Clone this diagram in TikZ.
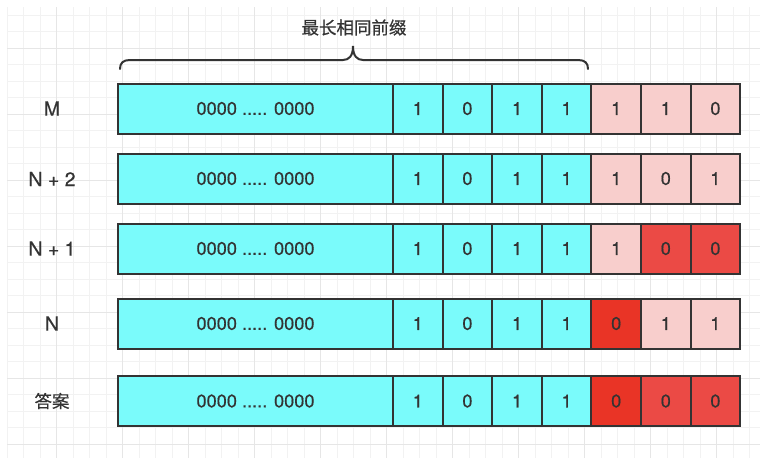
\documentclass[tikz,border=0pt]{standalone}
\usepackage{fontspec}
\setmainfont{TeX Gyre Heros}[FakeBold=0.5]
\newfontfamily\cjkfont{Noto Sans CJK SC}[FakeBold=0.6]
\usepackage{xcolor}
\definecolor{cyanbit}{HTML}{7AFBFB}
\definecolor{pinkbit}{HTML}{F8CECC}
\definecolor{redbit}{HTML}{EB4A45}
\definecolor{hotbit}{HTML}{E93426}
\definecolor{linegray}{HTML}{333333}
\definecolor{gridminor}{HTML}{F2F2F2}
\definecolor{gridmajor}{HTML}{E6E6E6}
\usepackage{tikz}
\usetikzlibrary{
  positioning
}

\newcommand{\bitfont}{\fontsize{18.2}{21}\selectfont}
\newcommand{\labelfont}{\fontsize{19.5}{22}\selectfont}

\begin{document}
\begin{tikzpicture}[
  x=1pt, y=-1pt,
  prefixbox/.style={rectangle, draw=linegray, line width=2pt, fill=cyanbit, minimum width=275pt, minimum height=50pt, outer sep=0pt, inner sep=0pt, font=\bitfont, text=linegray, anchor=north west},
  bitbox/.style={rectangle, draw=linegray, line width=2pt, fill=cyanbit, minimum width=49.6pt, minimum height=50pt, outer sep=0pt, inner sep=0pt, font=\bitfont, text=linegray},
  lowbox/.style={bitbox, fill=pinkbit},
  flipbox/.style={bitbox, fill=redbit},
  hotbox/.style={bitbox, fill=hotbit},
  rowlabel/.style={font=\labelfont, text=linegray},
  bracepath/.style={line width=2pt, draw=linegray, line cap=round},
]
\useasboundingbox (0,0) rectangle (767,458);

% grid background
\foreach \k in {0,...,45} {
  \draw[gridminor, line width=1pt] ({7+16.5*\k},7) -- ({7+16.5*\k},458);
}
\foreach \k in {0,...,26} {
  \draw[gridminor, line width=1pt] (7,{15+16.5*\k}) -- (760,{15+16.5*\k});
}
\foreach \k in {0,...,10} {
  \draw[gridmajor, line width=1pt] ({56.5+66*\k},7) -- ({56.5+66*\k},458);
}
\foreach \k in {0,...,6} {
  \draw[gridmajor, line width=1pt] (7,{48+66*\k}) -- (760,{48+66*\k});
}

% M
\node[prefixbox] (m0) at (118,83.5) {0000 ..... 0000};
\node[bitbox, right=0pt of m0] (m1) {1};
\node[bitbox, right=0pt of m1] (m2) {0};
\node[bitbox, right=0pt of m2] (m3) {1};
\node[bitbox, right=0pt of m3] (m4) {1};
\node[lowbox, right=0pt of m4] (m5) {1};
\node[lowbox, right=0pt of m5] (m6) {1};
\node[lowbox, right=0pt of m6] (m7) {0};

% N + 2
\node[prefixbox] (p0) at (118,153.5) {0000 ..... 0000};
\node[bitbox, right=0pt of p0] (p1) {1};
\node[bitbox, right=0pt of p1] (p2) {0};
\node[bitbox, right=0pt of p2] (p3) {1};
\node[bitbox, right=0pt of p3] (p4) {1};
\node[lowbox, right=0pt of p4] (p5) {1};
\node[lowbox, right=0pt of p5] (p6) {0};
\node[lowbox, right=0pt of p6] (p7) {1};

% N + 1
\node[prefixbox] (q0) at (118,223.5) {0000 ..... 0000};
\node[bitbox, right=0pt of q0] (q1) {1};
\node[bitbox, right=0pt of q1] (q2) {0};
\node[bitbox, right=0pt of q2] (q3) {1};
\node[bitbox, right=0pt of q3] (q4) {1};
\node[lowbox, right=0pt of q4] (q5) {1};
\node[flipbox, right=0pt of q5] (q6) {0};
\node[flipbox, right=0pt of q6] (q7) {0};

% N
\node[prefixbox] (n0) at (118,298.5) {0000 ..... 0000};
\node[bitbox, right=0pt of n0] (n1) {1};
\node[bitbox, right=0pt of n1] (n2) {0};
\node[bitbox, right=0pt of n2] (n3) {1};
\node[bitbox, right=0pt of n3] (n4) {1};
\node[hotbox, right=0pt of n4] (n5) {0};
\node[lowbox, right=0pt of n5] (n6) {1};
\node[lowbox, right=0pt of n6] (n7) {1};

% 答案
\node[prefixbox] (a0) at (118,376) {0000 ..... 0000};
\node[bitbox, right=0pt of a0] (a1) {1};
\node[bitbox, right=0pt of a1] (a2) {0};
\node[bitbox, right=0pt of a2] (a3) {1};
\node[bitbox, right=0pt of a3] (a4) {1};
\node[hotbox, right=0pt of a4] (a5) {0};
\node[flipbox, right=0pt of a5] (a6) {0};
\node[flipbox, right=0pt of a6] (a7) {0};

% row labels
\node[rowlabel] (lm) at (52,108.5) {M};
\node[rowlabel] (lp) at (52,179) {N + 2};
\node[rowlabel] (lq) at (52,248.5) {N + 1};
\node[rowlabel] (ln) at (52,323.5) {N};
\node[rowlabel, font=\cjkfont\fontsize{17.5}{20}\selectfont] (la) at (52,401) {答案};

% brace over the common prefix
\draw[bracepath] (120,69) .. controls (120,63) and (123,60) .. (130,60) -- (343,60)
  .. controls (349,60) and (353,56) .. (353,46)
  .. controls (353,56) and (357,60) .. (363,60) -- (578,60)
  .. controls (585,60) and (588,63) .. (588,69);
\node[rowlabel, font=\cjkfont\fontsize{17.5}{20}\selectfont] (title) at (354,27.5) {最长相同前缀};

\end{tikzpicture}
\end{document}
